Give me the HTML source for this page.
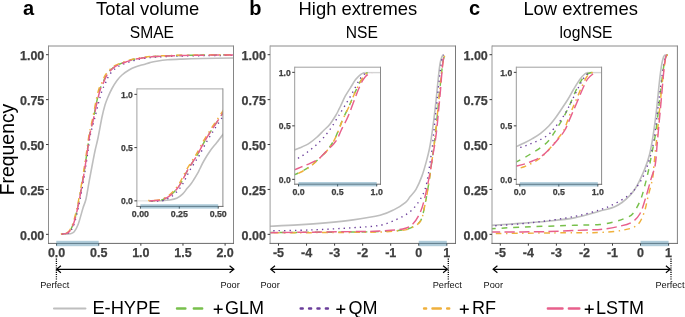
<!DOCTYPE html>
<html><head><meta charset="utf-8"><style>
html,body{margin:0;padding:0;background:#fff;}
body{width:685px;height:317px;overflow:hidden;position:relative;font-family:"Liberation Sans", sans-serif;}
</style></head><body>
<svg width="685" height="317" viewBox="0 0 685 317" style="position:absolute;left:0;top:0;font-family:'Liberation Sans', sans-serif;filter:blur(0.3px)">
<defs>
<clipPath id="cpa"><rect x="48.60" y="46.20" width="184.90" height="197.10"/></clipPath>
<clipPath id="cpb"><rect x="270.10" y="46.20" width="185.40" height="197.10"/></clipPath>
<clipPath id="cpc"><rect x="491.90" y="46.20" width="184.90" height="197.10"/></clipPath>
<clipPath id="cia"><rect x="136.90" y="88.90" width="86.00" height="117.50"/></clipPath>
<clipPath id="cib"><rect x="294.70" y="67.20" width="85.80" height="117.00"/></clipPath>
<clipPath id="cic"><rect x="516.30" y="67.20" width="85.30" height="117.10"/></clipPath>
</defs>
<text x="23.00" y="14.50" font-size="20.00" text-anchor="start" font-weight="bold" fill="#000">a</text>
<text x="96.00" y="14.50" font-size="18.40" text-anchor="start" font-weight="normal" fill="#000">Total volume</text>
<text x="129.80" y="38.30" font-size="15.60" text-anchor="start" font-weight="normal" fill="#000">SMAE</text>
<text x="249.20" y="14.50" font-size="20.00" text-anchor="start" font-weight="bold" fill="#000">b</text>
<text x="298.60" y="14.50" font-size="18.40" text-anchor="start" font-weight="normal" fill="#000">High extremes</text>
<text x="345.80" y="38.30" font-size="15.60" text-anchor="start" font-weight="normal" fill="#000">NSE</text>
<text x="469.00" y="14.50" font-size="20.00" text-anchor="start" font-weight="bold" fill="#000">c</text>
<text x="523.40" y="14.50" font-size="18.40" text-anchor="start" font-weight="normal" fill="#000">Low extremes</text>
<text x="559.60" y="38.30" font-size="15.60" text-anchor="start" font-weight="normal" fill="#000">logNSE</text>
<text x="0" y="0" font-size="19.4" fill="#000" transform="translate(14.3,195.3) rotate(-90)">Frequency</text>
<path d="M64.50,234.20 C65.43,234.13 68.48,234.22 70.10,233.80 C71.72,233.38 72.85,233.28 74.20,231.70 C75.55,230.12 76.73,228.25 78.20,224.30 C79.67,220.35 81.70,212.22 83.00,208.00 C84.30,203.78 84.97,203.47 86.00,199.00 C87.03,194.53 88.07,187.37 89.20,181.20 C90.33,175.03 91.80,167.20 92.80,162.00 C93.80,156.80 94.33,154.00 95.20,150.00 C96.07,146.00 96.87,143.50 98.00,138.00 C99.13,132.50 100.83,122.50 102.00,117.00 C103.17,111.50 104.00,108.33 105.00,105.00 C106.00,101.67 106.83,99.75 108.00,97.00 C109.17,94.25 110.50,91.25 112.00,88.50 C113.50,85.75 115.33,82.75 117.00,80.50 C118.67,78.25 120.00,76.75 122.00,75.00 C124.00,73.25 126.67,71.37 129.00,70.00 C131.33,68.63 133.50,67.73 136.00,66.80 C138.50,65.87 141.67,65.10 144.00,64.40 C146.33,63.70 147.90,63.13 150.00,62.60 C152.10,62.07 153.65,61.67 156.60,61.20 C159.55,60.73 163.53,60.15 167.70,59.80 C171.87,59.45 175.82,59.32 181.60,59.10 C187.38,58.88 193.67,58.68 202.40,58.50 C211.13,58.32 228.73,58.08 234.00,58.00" fill="none" stroke="#bebebe" stroke-width="1.60" clip-path="url(#cpa)"/>
<path d="M61.30,234.16 C62.25,233.98 65.50,233.73 67.00,233.06 C68.50,232.39 69.18,231.89 70.30,230.16 C71.42,228.43 72.50,226.36 73.70,222.66 C74.90,218.96 76.38,212.89 77.50,207.96 C78.62,203.03 79.43,198.28 80.40,193.06 C81.37,187.84 82.43,181.88 83.30,176.66 C84.17,171.44 84.88,166.46 85.60,161.76 C86.32,157.06 86.93,153.01 87.60,148.46 C88.27,143.91 88.65,139.48 89.60,134.46 C90.55,129.44 92.12,123.85 93.31,118.34 C94.51,112.84 95.71,106.24 96.79,101.42 C97.87,96.59 98.86,92.32 99.80,89.40 C100.74,86.48 101.65,85.57 102.40,83.90 C103.15,82.23 103.65,80.83 104.30,79.40 C104.95,77.97 105.43,76.70 106.30,75.30 C107.17,73.90 108.38,72.25 109.50,71.00 C110.62,69.75 111.95,68.67 113.00,67.80 C114.05,66.93 114.67,66.43 115.80,65.80 C116.93,65.17 118.18,64.65 119.80,64.00 C121.42,63.35 123.18,62.68 125.50,61.90 C127.82,61.12 130.70,60.02 133.70,59.30 C136.70,58.58 140.22,58.07 143.50,57.60 C146.78,57.13 149.45,56.80 153.40,56.50 C157.35,56.20 162.58,55.98 167.20,55.80 C171.82,55.62 175.32,55.52 181.10,55.40 C186.88,55.28 193.17,55.20 201.90,55.10 C210.63,55.00 228.23,54.85 233.50,54.80" fill="none" stroke="#78c04c" stroke-width="1.46" stroke-dasharray="5.84,5.84" clip-path="url(#cpa)"/>
<path d="M62.10,234.33 C63.05,234.15 66.30,233.90 67.80,233.23 C69.30,232.57 69.98,232.07 71.10,230.33 C72.22,228.60 73.30,226.53 74.50,222.83 C75.70,219.13 77.18,213.07 78.30,208.13 C79.42,203.20 80.23,198.45 81.20,193.23 C82.17,188.02 83.23,182.05 84.10,176.83 C84.97,171.62 85.68,166.63 86.40,161.94 C87.12,157.24 87.73,153.19 88.40,148.63 C89.07,144.08 89.37,139.64 90.40,134.63 C91.43,129.63 93.21,124.09 94.61,118.63 C96.01,113.16 97.52,106.64 98.80,101.86 C100.08,97.08 101.28,92.85 102.30,89.95 C103.32,87.05 104.15,86.12 104.90,84.45 C105.65,82.78 106.15,81.38 106.80,79.95 C107.45,78.52 107.93,77.25 108.80,75.85 C109.67,74.45 110.88,72.80 112.00,71.55 C113.12,70.30 114.45,69.22 115.50,68.35 C116.55,67.48 117.17,66.98 118.30,66.35 C119.43,65.72 120.68,65.20 122.30,64.55 C123.92,63.90 125.68,63.23 128.00,62.45 C130.32,61.67 133.20,60.57 136.20,59.85 C139.20,59.13 142.72,58.62 146.00,58.15 C149.28,57.68 151.95,57.35 155.90,57.05 C159.85,56.75 165.08,56.53 169.70,56.35 C174.32,56.17 177.82,56.07 183.60,55.95 C189.38,55.83 195.67,55.75 204.40,55.65 C213.13,55.55 230.73,55.40 236.00,55.35" fill="none" stroke="#6a3d9a" stroke-width="1.35" stroke-dasharray="1.35,4.05" clip-path="url(#cpa)"/>
<path d="M60.83,234.09 C61.78,233.90 65.03,233.65 66.53,232.99 C68.03,232.32 68.71,231.82 69.83,230.09 C70.94,228.35 72.03,226.29 73.23,222.59 C74.43,218.89 75.91,212.82 77.03,207.89 C78.14,202.95 78.96,198.20 79.92,192.99 C80.89,187.77 81.96,181.80 82.83,176.59 C83.69,171.37 84.41,166.39 85.12,161.69 C85.84,156.99 86.46,152.94 87.12,148.39 C87.79,143.84 88.20,139.41 89.12,134.39 C90.05,129.36 91.55,123.76 92.69,118.25 C93.82,112.73 94.92,106.12 95.94,101.29 C96.96,96.46 97.89,92.17 98.80,89.25 C99.71,86.33 100.65,85.42 101.40,83.75 C102.15,82.08 102.65,80.68 103.30,79.25 C103.95,77.82 104.43,76.55 105.30,75.15 C106.17,73.75 107.38,72.10 108.50,70.85 C109.62,69.60 110.95,68.52 112.00,67.65 C113.05,66.78 113.67,66.28 114.80,65.65 C115.93,65.02 117.18,64.50 118.80,63.85 C120.42,63.20 122.18,62.53 124.50,61.75 C126.82,60.97 129.70,59.87 132.70,59.15 C135.70,58.43 139.22,57.92 142.50,57.45 C145.78,56.98 148.45,56.65 152.40,56.35 C156.35,56.05 161.58,55.83 166.20,55.65 C170.82,55.47 174.32,55.37 180.10,55.25 C185.88,55.13 192.17,55.05 200.90,54.95 C209.63,54.85 227.23,54.70 232.50,54.65" fill="none" stroke="#efb03c" stroke-width="1.46" stroke-dasharray="1.46,4.38,5.84,4.38" clip-path="url(#cpa)"/>
<path d="M61.50,234.20 C62.45,234.02 65.70,233.77 67.20,233.10 C68.70,232.43 69.38,231.93 70.50,230.20 C71.62,228.47 72.70,226.40 73.90,222.70 C75.10,219.00 76.58,212.93 77.70,208.00 C78.82,203.07 79.63,198.32 80.60,193.10 C81.57,187.88 82.63,181.92 83.50,176.70 C84.37,171.48 85.08,166.50 85.80,161.80 C86.52,157.10 87.13,153.05 87.80,148.50 C88.47,143.95 88.83,139.52 89.80,134.50 C90.77,129.48 92.37,123.90 93.60,118.40 C94.83,112.90 96.08,106.32 97.20,101.50 C98.32,96.68 99.35,92.42 100.30,89.50 C101.25,86.58 102.15,85.67 102.90,84.00 C103.65,82.33 104.15,80.93 104.80,79.50 C105.45,78.07 105.93,76.80 106.80,75.40 C107.67,74.00 108.88,72.35 110.00,71.10 C111.12,69.85 112.45,68.77 113.50,67.90 C114.55,67.03 115.17,66.53 116.30,65.90 C117.43,65.27 118.68,64.75 120.30,64.10 C121.92,63.45 123.68,62.78 126.00,62.00 C128.32,61.22 131.20,60.12 134.20,59.40 C137.20,58.68 140.72,58.17 144.00,57.70 C147.28,57.23 149.95,56.90 153.90,56.60 C157.85,56.30 163.08,56.08 167.70,55.90 C172.32,55.72 175.82,55.62 181.60,55.50 C187.38,55.38 193.67,55.30 202.40,55.20 C211.13,55.10 228.73,54.95 234.00,54.90" fill="none" stroke="#e8608c" stroke-width="1.46" stroke-dasharray="10.22,4.38" clip-path="url(#cpa)"/>
<rect x="136.90" y="88.90" width="86.00" height="117.50" fill="#fff"/>
<line x1="136.90" x2="150" y1="200.85" y2="200.85" stroke="#e2e2e2" stroke-width="1.3"/>
<path d="M157.00,200.90 C157.50,200.88 157.88,200.95 160.00,200.80 C162.12,200.65 166.92,200.42 169.70,200.00 C172.48,199.58 174.57,199.27 176.70,198.30 C178.83,197.33 180.75,195.87 182.50,194.20 C184.25,192.53 185.83,189.95 187.20,188.30 C188.57,186.65 189.53,185.85 190.70,184.30 C191.87,182.75 193.03,180.85 194.20,179.00 C195.37,177.15 196.73,174.95 197.70,173.20 C198.67,171.45 198.98,170.53 200.00,168.50 C201.02,166.47 202.07,164.00 203.80,161.00 C205.53,158.00 208.20,153.62 210.40,150.50 C212.60,147.38 214.73,145.22 217.00,142.30 C219.27,139.38 222.83,134.55 224.00,133.00" fill="none" stroke="#bebebe" stroke-width="1.60" clip-path="url(#cia)"/>
<path d="M149.40,200.90 C151.17,200.80 157.40,200.68 160.00,200.30 C162.60,199.92 163.38,199.33 165.00,198.60 C166.62,197.87 168.15,197.03 169.70,195.90 C171.25,194.77 172.95,193.15 174.30,191.80 C175.65,190.45 176.63,189.35 177.80,187.80 C178.97,186.25 180.22,184.35 181.30,182.50 C182.38,180.65 183.25,178.75 184.30,176.70 C185.35,174.65 186.27,172.55 187.60,170.20 C188.93,167.85 190.72,165.10 192.30,162.60 C193.88,160.10 195.03,158.77 197.10,155.20 C199.17,151.63 202.08,145.70 204.70,141.20 C207.32,136.70 210.12,132.37 212.80,128.20 C215.48,124.03 218.77,119.23 220.80,116.20 C222.83,113.17 224.30,111.03 225.00,110.00" fill="none" stroke="#78c04c" stroke-width="1.46" stroke-dasharray="5.84,5.84" clip-path="url(#cia)"/>
<path d="M151.40,201.40 C153.17,201.30 159.40,201.18 162.00,200.80 C164.60,200.42 165.38,199.83 167.00,199.10 C168.62,198.37 170.15,197.53 171.70,196.40 C173.25,195.27 174.95,193.65 176.30,192.30 C177.65,190.95 178.63,189.85 179.80,188.30 C180.97,186.75 182.22,184.85 183.30,183.00 C184.38,181.15 185.25,179.25 186.30,177.20 C187.35,175.15 188.27,173.05 189.60,170.70 C190.93,168.35 192.72,165.60 194.30,163.10 C195.88,160.60 197.03,159.27 199.10,155.70 C201.17,152.13 204.08,146.20 206.70,141.70 C209.32,137.20 212.12,132.87 214.80,128.70 C217.48,124.53 220.77,119.73 222.80,116.70 C224.83,113.67 226.30,111.53 227.00,110.50" fill="none" stroke="#6a3d9a" stroke-width="1.35" stroke-dasharray="1.35,4.05" clip-path="url(#cia)"/>
<path d="M148.20,200.60 C149.97,200.50 156.20,200.38 158.80,200.00 C161.40,199.62 162.18,199.03 163.80,198.30 C165.42,197.57 166.95,196.73 168.50,195.60 C170.05,194.47 171.75,192.85 173.10,191.50 C174.45,190.15 175.43,189.05 176.60,187.50 C177.77,185.95 179.02,184.05 180.10,182.20 C181.18,180.35 182.05,178.45 183.10,176.40 C184.15,174.35 185.07,172.25 186.40,169.90 C187.73,167.55 189.52,164.80 191.10,162.30 C192.68,159.80 193.83,158.47 195.90,154.90 C197.97,151.33 200.88,145.40 203.50,140.90 C206.12,136.40 208.92,132.07 211.60,127.90 C214.28,123.73 217.57,118.93 219.60,115.90 C221.63,112.87 223.10,110.73 223.80,109.70" fill="none" stroke="#efb03c" stroke-width="1.46" stroke-dasharray="1.46,4.38,5.84,4.38" clip-path="url(#cia)"/>
<path d="M149.40,200.90 C151.17,200.80 157.40,200.68 160.00,200.30 C162.60,199.92 163.38,199.33 165.00,198.60 C166.62,197.87 168.15,197.03 169.70,195.90 C171.25,194.77 172.95,193.15 174.30,191.80 C175.65,190.45 176.63,189.35 177.80,187.80 C178.97,186.25 180.22,184.35 181.30,182.50 C182.38,180.65 183.25,178.75 184.30,176.70 C185.35,174.65 186.27,172.55 187.60,170.20 C188.93,167.85 190.72,165.10 192.30,162.60 C193.88,160.10 195.03,158.77 197.10,155.20 C199.17,151.63 202.08,145.70 204.70,141.20 C207.32,136.70 210.12,132.37 212.80,128.20 C215.48,124.03 218.77,119.23 220.80,116.20 C222.83,113.17 224.30,111.03 225.00,110.00" fill="none" stroke="#e8608c" stroke-width="1.46" stroke-dasharray="10.22,4.38" clip-path="url(#cia)"/>
<line x1="136.90" x2="222.90" y1="88.90" y2="88.90" stroke="#a8a8a8" stroke-width="1.00"/>
<line x1="222.90" x2="222.90" y1="88.40" y2="206.90" stroke="#8a8a8a" stroke-width="1.00"/>
<line x1="136.90" x2="136.90" y1="88.40" y2="206.90" stroke="#a0a0a0" stroke-width="1.00"/>
<line x1="136.40" x2="223.40" y1="206.40" y2="206.40" stroke="#6e6e6e" stroke-width="1.00"/>
<line x1="134.40" x2="136.90" y1="200.85" y2="200.85" stroke="#3c3c3c" stroke-width="1"/>
<text x="132.90" y="204.25" font-size="8.60" text-anchor="end" font-weight="bold" fill="#3e3e3e" stroke="#3e3e3e" stroke-width="0.25">0.0</text>
<line x1="134.40" x2="136.90" y1="147.60" y2="147.60" stroke="#3c3c3c" stroke-width="1"/>
<text x="132.90" y="151.00" font-size="8.60" text-anchor="end" font-weight="bold" fill="#3e3e3e" stroke="#3e3e3e" stroke-width="0.25">0.5</text>
<line x1="134.40" x2="136.90" y1="94.35" y2="94.35" stroke="#3c3c3c" stroke-width="1"/>
<text x="132.90" y="97.75" font-size="8.60" text-anchor="end" font-weight="bold" fill="#3e3e3e" stroke="#3e3e3e" stroke-width="0.25">1.0</text>
<line x1="140.40" x2="140.40" y1="206.40" y2="208.60" stroke="#3c3c3c" stroke-width="1"/>
<text x="140.40" y="217.30" font-size="8.80" text-anchor="middle" font-weight="bold" fill="#3e3e3e" stroke="#3e3e3e" stroke-width="0.25">0.00</text>
<line x1="179.30" x2="179.30" y1="206.40" y2="208.60" stroke="#3c3c3c" stroke-width="1"/>
<text x="179.30" y="217.30" font-size="8.80" text-anchor="middle" font-weight="bold" fill="#3e3e3e" stroke="#3e3e3e" stroke-width="0.25">0.25</text>
<line x1="218.20" x2="218.20" y1="206.40" y2="208.60" stroke="#3c3c3c" stroke-width="1"/>
<text x="218.20" y="217.30" font-size="8.80" text-anchor="middle" font-weight="bold" fill="#3e3e3e" stroke="#3e3e3e" stroke-width="0.25">0.50</text>
<rect x="140.40" y="204.20" width="77.80" height="4.4" fill="rgba(79,142,173,0.45)"/>
<line x1="48.50" x2="233.50" y1="46.00" y2="46.00" stroke="#8a8a8a" stroke-width="1.00"/>
<line x1="233.50" x2="233.50" y1="45.50" y2="243.90" stroke="#858585" stroke-width="1.00"/>
<line x1="48.50" x2="48.50" y1="45.50" y2="243.90" stroke="#8e8e8e" stroke-width="1.00"/>
<line x1="48.00" x2="234.00" y1="243.40" y2="243.40" stroke="#6a6a6a" stroke-width="1.00"/>
<line x1="46.00" x2="48.50" y1="234.35" y2="234.35" stroke="#3c3c3c" stroke-width="1"/>
<text x="44.30" y="239.85" font-size="12.50" text-anchor="end" font-weight="bold" fill="#3e3e3e" stroke="#3e3e3e" stroke-width="0.25">0.00</text>
<line x1="46.00" x2="48.50" y1="189.44" y2="189.44" stroke="#3c3c3c" stroke-width="1"/>
<text x="44.30" y="194.94" font-size="12.50" text-anchor="end" font-weight="bold" fill="#3e3e3e" stroke="#3e3e3e" stroke-width="0.25">0.25</text>
<line x1="46.00" x2="48.50" y1="144.52" y2="144.52" stroke="#3c3c3c" stroke-width="1"/>
<text x="44.30" y="150.02" font-size="12.50" text-anchor="end" font-weight="bold" fill="#3e3e3e" stroke="#3e3e3e" stroke-width="0.25">0.50</text>
<line x1="46.00" x2="48.50" y1="99.61" y2="99.61" stroke="#3c3c3c" stroke-width="1"/>
<text x="44.30" y="105.11" font-size="12.50" text-anchor="end" font-weight="bold" fill="#3e3e3e" stroke="#3e3e3e" stroke-width="0.25">0.75</text>
<line x1="46.00" x2="48.50" y1="54.70" y2="54.70" stroke="#3c3c3c" stroke-width="1"/>
<text x="44.30" y="60.20" font-size="12.50" text-anchor="end" font-weight="bold" fill="#3e3e3e" stroke="#3e3e3e" stroke-width="0.25">1.00</text>
<line x1="56.60" x2="56.60" y1="243.40" y2="245.70" stroke="#3c3c3c" stroke-width="1"/>
<text x="56.60" y="256.70" font-size="12.50" text-anchor="middle" font-weight="bold" fill="#3e3e3e" stroke="#3e3e3e" stroke-width="0.25">0.0</text>
<line x1="98.72" x2="98.72" y1="243.40" y2="245.70" stroke="#3c3c3c" stroke-width="1"/>
<text x="98.72" y="256.70" font-size="12.50" text-anchor="middle" font-weight="bold" fill="#3e3e3e" stroke="#3e3e3e" stroke-width="0.25">0.5</text>
<line x1="140.85" x2="140.85" y1="243.40" y2="245.70" stroke="#3c3c3c" stroke-width="1"/>
<text x="140.85" y="256.70" font-size="12.50" text-anchor="middle" font-weight="bold" fill="#3e3e3e" stroke="#3e3e3e" stroke-width="0.25">1.0</text>
<line x1="182.97" x2="182.97" y1="243.40" y2="245.70" stroke="#3c3c3c" stroke-width="1"/>
<text x="182.97" y="256.70" font-size="12.50" text-anchor="middle" font-weight="bold" fill="#3e3e3e" stroke="#3e3e3e" stroke-width="0.25">1.5</text>
<line x1="225.10" x2="225.10" y1="243.40" y2="245.70" stroke="#3c3c3c" stroke-width="1"/>
<text x="225.10" y="256.70" font-size="12.50" text-anchor="middle" font-weight="bold" fill="#3e3e3e" stroke="#3e3e3e" stroke-width="0.25">2.0</text>
<rect x="56.30" y="240.80" width="42.42" height="5.4" fill="rgba(79,142,173,0.45)"/>
<line x1="56.40" x2="56.40" y1="258.6" y2="279.8" stroke="#000" stroke-width="1.3" stroke-dasharray="1.1,1.1"/>
<line x1="57.20" x2="233.30" y1="269.3" y2="269.3" stroke="#000" stroke-width="1.15"/>
<path d="M60.90,265.80 L56.60,269.3 L60.90,272.80" fill="none" stroke="#000" stroke-width="1.15"/>
<path d="M229.60,265.80 L233.90,269.3 L229.60,272.80" fill="none" stroke="#000" stroke-width="1.15"/>
<text x="54.80" y="288.30" font-size="9.20" text-anchor="middle" font-weight="normal" fill="#111">Perfect</text>
<text x="230.10" y="288.30" font-size="9.20" text-anchor="middle" font-weight="normal" fill="#111">Poor</text>
<path d="M268.00,226.40 C272.95,226.15 288.12,225.48 297.70,224.90 C307.28,224.32 316.25,223.73 325.50,222.90 C334.75,222.07 344.12,221.17 353.20,219.90 C362.28,218.63 373.17,217.02 380.00,215.30 C386.83,213.58 389.93,211.77 394.20,209.60 C398.47,207.43 402.97,204.43 405.60,202.30 C408.23,200.17 408.27,198.95 410.00,196.80 C411.73,194.65 414.00,192.88 416.00,189.40 C418.00,185.92 420.25,180.65 422.00,175.90 C423.75,171.15 425.27,165.38 426.50,160.90 C427.73,156.42 428.65,152.48 429.40,149.00 C430.15,145.52 430.40,143.83 431.00,140.00 C431.60,136.17 432.33,131.00 433.00,126.00 C433.67,121.00 434.40,115.17 435.00,110.00 C435.60,104.83 436.05,100.33 436.60,95.00 C437.15,89.67 437.73,83.17 438.30,78.00 C438.87,72.83 439.42,67.50 440.00,64.00 C440.58,60.50 441.15,58.55 441.80,57.00 C442.45,55.45 443.55,55.08 443.90,54.70" fill="none" stroke="#bebebe" stroke-width="1.60" clip-path="url(#cpb)"/>
<path d="M268.00,232.60 C282.20,232.50 334.53,232.17 353.20,232.00 C371.87,231.83 372.20,231.88 380.00,231.60 C387.80,231.32 395.00,230.87 400.00,230.30 C405.00,229.73 406.58,229.78 410.00,228.20 C413.42,226.62 418.00,224.78 420.50,220.80 C423.00,216.82 423.67,210.28 425.00,204.30 C426.33,198.32 427.42,191.63 428.50,184.90 C429.58,178.17 430.58,170.38 431.50,163.90 C432.42,157.42 433.25,151.98 434.00,146.00 C434.75,140.02 435.37,134.00 436.00,128.00 C436.63,122.00 437.20,116.00 437.80,110.00 C438.40,104.00 439.00,98.00 439.60,92.00 C440.20,86.00 440.78,79.33 441.40,74.00 C442.02,68.67 442.70,63.17 443.30,60.00 C443.90,56.83 444.72,55.83 445.00,55.00" fill="none" stroke="#78c04c" stroke-width="1.46" stroke-dasharray="5.84,5.84" clip-path="url(#cpb)"/>
<path d="M268.00,230.90 C275.27,230.73 297.40,230.43 311.60,229.90 C325.80,229.37 341.80,228.47 353.20,227.70 C364.60,226.93 372.68,226.72 380.00,225.30 C387.32,223.88 392.10,221.45 397.10,219.20 C402.10,216.95 406.35,214.78 410.00,211.80 C413.65,208.82 416.50,205.03 419.00,201.30 C421.50,197.57 423.50,193.63 425.00,189.40 C426.50,185.17 427.12,180.65 428.00,175.90 C428.88,171.15 429.57,165.88 430.30,160.90 C431.03,155.92 431.78,151.15 432.40,146.00 C433.02,140.85 433.47,135.17 434.00,130.00 C434.53,124.83 435.02,120.67 435.60,115.00 C436.18,109.33 436.82,102.50 437.50,96.00 C438.18,89.50 438.98,82.00 439.70,76.00 C440.42,70.00 441.17,63.53 441.80,60.00 C442.43,56.47 443.22,55.67 443.50,54.80" fill="none" stroke="#6a3d9a" stroke-width="1.35" stroke-dasharray="1.35,4.05" clip-path="url(#cpb)"/>
<path d="M268.00,232.90 C282.20,232.82 334.53,232.55 353.20,232.40 C371.87,232.25 372.20,232.30 380.00,232.00 C387.80,231.70 395.00,231.18 400.00,230.60 C405.00,230.02 406.58,230.08 410.00,228.50 C413.42,226.92 418.00,225.08 420.50,221.10 C423.00,217.12 423.67,210.58 425.00,204.60 C426.33,198.62 427.42,191.93 428.50,185.20 C429.58,178.47 430.58,170.68 431.50,164.20 C432.42,157.72 433.25,152.28 434.00,146.30 C434.75,140.32 435.37,134.30 436.00,128.30 C436.63,122.30 437.20,116.30 437.80,110.30 C438.40,104.30 439.00,98.30 439.60,92.30 C440.20,86.30 440.78,79.63 441.40,74.30 C442.02,68.97 442.70,63.52 443.30,60.30 C443.90,57.08 444.72,55.88 445.00,55.00" fill="none" stroke="#efb03c" stroke-width="1.46" stroke-dasharray="1.46,4.38,5.84,4.38" clip-path="url(#cpb)"/>
<path d="M268.00,232.70 C282.20,232.52 334.53,231.88 353.20,231.60 C371.87,231.32 371.75,231.43 380.00,231.00 C388.25,230.57 397.20,230.20 402.70,229.00 C408.20,227.80 410.03,226.67 413.00,223.80 C415.97,220.93 418.50,216.30 420.50,211.80 C422.50,207.30 423.52,202.78 425.00,196.80 C426.48,190.82 428.17,182.37 429.40,175.90 C430.63,169.43 431.40,163.98 432.40,158.00 C433.40,152.02 434.58,145.68 435.40,140.00 C436.22,134.32 436.73,129.23 437.30,123.90 C437.87,118.57 438.32,113.05 438.80,108.00 C439.28,102.95 439.77,98.53 440.20,93.60 C440.63,88.67 440.97,83.45 441.40,78.40 C441.83,73.35 442.33,67.08 442.80,63.30 C443.27,59.52 443.75,57.15 444.20,55.70 C444.65,54.25 445.28,54.78 445.50,54.60" fill="none" stroke="#e8608c" stroke-width="1.46" stroke-dasharray="10.22,4.38" clip-path="url(#cpb)"/>
<rect x="294.70" y="67.20" width="85.80" height="117.00" fill="#fff"/>
<line x1="364" x2="380.50" y1="72.6" y2="72.6" stroke="#d4d4d4" stroke-width="1.4"/>
<path d="M293.00,150.50 C294.17,150.05 297.27,149.03 300.00,147.80 C302.73,146.57 306.52,144.93 309.40,143.10 C312.28,141.27 314.93,138.90 317.30,136.80 C319.67,134.70 321.50,132.60 323.60,130.50 C325.70,128.40 327.80,126.83 329.90,124.20 C332.00,121.57 334.75,117.07 336.20,114.70 C337.65,112.33 337.87,111.45 338.60,110.00 C339.33,108.55 339.50,108.30 340.60,106.00 C341.70,103.70 343.57,99.23 345.20,96.20 C346.83,93.17 348.67,90.57 350.40,87.80 C352.13,85.03 353.87,81.85 355.60,79.60 C357.33,77.35 359.37,75.45 360.80,74.30 C362.23,73.15 363.63,72.97 364.20,72.70" fill="none" stroke="#bebebe" stroke-width="1.60" clip-path="url(#cib)"/>
<path d="M293.00,175.30 C294.53,174.62 299.30,172.73 302.20,171.20 C305.10,169.67 307.67,168.15 310.40,166.10 C313.13,164.05 315.87,161.47 318.60,158.90 C321.33,156.33 324.07,154.12 326.80,150.70 C329.53,147.28 332.32,143.68 335.00,138.40 C337.68,133.12 340.60,124.28 342.90,119.00 C345.20,113.72 346.82,111.07 348.80,106.70 C350.78,102.33 352.82,97.10 354.80,92.80 C356.78,88.50 358.88,84.03 360.70,80.90 C362.52,77.77 364.53,75.38 365.70,74.00 C366.87,72.62 367.37,72.83 367.70,72.60" fill="none" stroke="#78c04c" stroke-width="1.46" stroke-dasharray="5.84,5.84" clip-path="url(#cib)"/>
<path d="M293.00,160.50 C294.17,159.95 297.52,158.67 300.00,157.20 C302.48,155.73 305.28,153.67 307.90,151.70 C310.52,149.73 313.08,147.75 315.70,145.40 C318.32,143.05 320.97,140.62 323.60,137.60 C326.23,134.58 329.13,130.72 331.50,127.30 C333.87,123.88 336.30,119.52 337.80,117.10 C339.30,114.68 339.27,114.80 340.50,112.80 C341.73,110.80 343.55,107.83 345.20,105.10 C346.85,102.37 348.67,99.43 350.40,96.40 C352.13,93.37 354.02,89.78 355.60,86.90 C357.18,84.02 358.47,81.20 359.90,79.10 C361.33,77.00 362.90,75.30 364.20,74.30 C365.50,73.30 367.12,73.30 367.70,73.10" fill="none" stroke="#6a3d9a" stroke-width="1.35" stroke-dasharray="1.35,4.05" clip-path="url(#cib)"/>
<path d="M293.00,175.60 C294.53,174.92 299.30,173.03 302.20,171.50 C305.10,169.97 307.67,168.45 310.40,166.40 C313.13,164.35 315.87,161.77 318.60,159.20 C321.33,156.63 324.07,154.42 326.80,151.00 C329.53,147.58 332.32,143.98 335.00,138.70 C337.68,133.42 340.60,124.58 342.90,119.30 C345.20,114.02 346.82,111.37 348.80,107.00 C350.78,102.63 352.82,97.40 354.80,93.10 C356.78,88.80 358.88,84.33 360.70,81.20 C362.52,78.07 364.53,75.73 365.70,74.30 C366.87,72.87 367.37,72.88 367.70,72.60" fill="none" stroke="#efb03c" stroke-width="1.46" stroke-dasharray="1.46,4.38,5.84,4.38" clip-path="url(#cib)"/>
<path d="M293.00,170.50 C294.32,169.95 298.42,168.23 300.90,167.20 C303.38,166.17 305.58,165.30 307.90,164.30 C310.22,163.30 312.78,162.30 314.80,161.20 C316.82,160.10 318.27,159.15 320.00,157.70 C321.73,156.25 323.47,154.23 325.20,152.50 C326.93,150.77 328.93,148.80 330.40,147.30 C331.87,145.80 332.82,144.97 334.00,143.50 C335.18,142.03 336.28,140.75 337.50,138.50 C338.72,136.25 339.83,133.03 341.30,130.00 C342.77,126.97 344.83,123.40 346.30,120.30 C347.77,117.20 348.83,114.57 350.10,111.40 C351.37,108.23 352.63,104.65 353.90,101.30 C355.17,97.95 356.43,94.43 357.70,91.30 C358.97,88.17 360.27,84.88 361.50,82.50 C362.73,80.12 363.92,78.37 365.10,77.00 C366.28,75.63 367.45,74.92 368.60,74.30 C369.75,73.68 371.43,73.47 372.00,73.30" fill="none" stroke="#e8608c" stroke-width="1.46" stroke-dasharray="10.22,4.38" clip-path="url(#cib)"/>
<line x1="294.70" x2="380.50" y1="67.20" y2="67.20" stroke="#a0a0a0" stroke-width="1.00"/>
<line x1="380.50" x2="380.50" y1="66.70" y2="184.70" stroke="#8a8a8a" stroke-width="1.00"/>
<line x1="294.70" x2="294.70" y1="66.70" y2="184.70" stroke="#9a9a9a" stroke-width="1.00"/>
<line x1="294.20" x2="381.00" y1="184.20" y2="184.20" stroke="#6e6e6e" stroke-width="1.00"/>
<line x1="292.20" x2="294.70" y1="179.35" y2="179.35" stroke="#3c3c3c" stroke-width="1"/>
<text x="290.70" y="182.75" font-size="8.60" text-anchor="end" font-weight="bold" fill="#3e3e3e" stroke="#3e3e3e" stroke-width="0.25">0.0</text>
<line x1="292.20" x2="294.70" y1="125.85" y2="125.85" stroke="#3c3c3c" stroke-width="1"/>
<text x="290.70" y="129.25" font-size="8.60" text-anchor="end" font-weight="bold" fill="#3e3e3e" stroke="#3e3e3e" stroke-width="0.25">0.5</text>
<line x1="292.20" x2="294.70" y1="72.35" y2="72.35" stroke="#3c3c3c" stroke-width="1"/>
<text x="290.70" y="75.75" font-size="8.60" text-anchor="end" font-weight="bold" fill="#3e3e3e" stroke="#3e3e3e" stroke-width="0.25">1.0</text>
<line x1="298.50" x2="298.50" y1="184.20" y2="186.40" stroke="#3c3c3c" stroke-width="1"/>
<text x="298.50" y="195.10" font-size="8.80" text-anchor="middle" font-weight="bold" fill="#3e3e3e" stroke="#3e3e3e" stroke-width="0.25">0.0</text>
<line x1="337.60" x2="337.60" y1="184.20" y2="186.40" stroke="#3c3c3c" stroke-width="1"/>
<text x="337.60" y="195.10" font-size="8.80" text-anchor="middle" font-weight="bold" fill="#3e3e3e" stroke="#3e3e3e" stroke-width="0.25">0.5</text>
<line x1="376.70" x2="376.70" y1="184.20" y2="186.40" stroke="#3c3c3c" stroke-width="1"/>
<text x="376.70" y="195.10" font-size="8.80" text-anchor="middle" font-weight="bold" fill="#3e3e3e" stroke="#3e3e3e" stroke-width="0.25">1.0</text>
<rect x="298.50" y="182.00" width="78.20" height="4.4" fill="rgba(79,142,173,0.45)"/>
<line x1="270.10" x2="455.50" y1="46.00" y2="46.00" stroke="#8a8a8a" stroke-width="1.00"/>
<line x1="455.50" x2="455.50" y1="45.50" y2="243.90" stroke="#7a7a7a" stroke-width="1.00"/>
<line x1="270.10" x2="270.10" y1="45.50" y2="243.90" stroke="#9c9c9c" stroke-width="1.00"/>
<line x1="269.60" x2="456.00" y1="243.40" y2="243.40" stroke="#6a6a6a" stroke-width="1.00"/>
<line x1="267.60" x2="270.10" y1="234.35" y2="234.35" stroke="#3c3c3c" stroke-width="1"/>
<text x="265.90" y="239.85" font-size="12.50" text-anchor="end" font-weight="bold" fill="#3e3e3e" stroke="#3e3e3e" stroke-width="0.25">0.00</text>
<line x1="267.60" x2="270.10" y1="189.44" y2="189.44" stroke="#3c3c3c" stroke-width="1"/>
<text x="265.90" y="194.94" font-size="12.50" text-anchor="end" font-weight="bold" fill="#3e3e3e" stroke="#3e3e3e" stroke-width="0.25">0.25</text>
<line x1="267.60" x2="270.10" y1="144.52" y2="144.52" stroke="#3c3c3c" stroke-width="1"/>
<text x="265.90" y="150.02" font-size="12.50" text-anchor="end" font-weight="bold" fill="#3e3e3e" stroke="#3e3e3e" stroke-width="0.25">0.50</text>
<line x1="267.60" x2="270.10" y1="99.61" y2="99.61" stroke="#3c3c3c" stroke-width="1"/>
<text x="265.90" y="105.11" font-size="12.50" text-anchor="end" font-weight="bold" fill="#3e3e3e" stroke="#3e3e3e" stroke-width="0.25">0.75</text>
<line x1="267.60" x2="270.10" y1="54.70" y2="54.70" stroke="#3c3c3c" stroke-width="1"/>
<text x="265.90" y="60.20" font-size="12.50" text-anchor="end" font-weight="bold" fill="#3e3e3e" stroke="#3e3e3e" stroke-width="0.25">1.00</text>
<line x1="278.50" x2="278.50" y1="243.40" y2="245.70" stroke="#3c3c3c" stroke-width="1"/>
<text x="278.50" y="256.70" font-size="12.50" text-anchor="middle" font-weight="bold" fill="#3e3e3e" stroke="#3e3e3e" stroke-width="0.25">-5</text>
<line x1="306.55" x2="306.55" y1="243.40" y2="245.70" stroke="#3c3c3c" stroke-width="1"/>
<text x="306.55" y="256.70" font-size="12.50" text-anchor="middle" font-weight="bold" fill="#3e3e3e" stroke="#3e3e3e" stroke-width="0.25">-4</text>
<line x1="334.60" x2="334.60" y1="243.40" y2="245.70" stroke="#3c3c3c" stroke-width="1"/>
<text x="334.60" y="256.70" font-size="12.50" text-anchor="middle" font-weight="bold" fill="#3e3e3e" stroke="#3e3e3e" stroke-width="0.25">-3</text>
<line x1="362.65" x2="362.65" y1="243.40" y2="245.70" stroke="#3c3c3c" stroke-width="1"/>
<text x="362.65" y="256.70" font-size="12.50" text-anchor="middle" font-weight="bold" fill="#3e3e3e" stroke="#3e3e3e" stroke-width="0.25">-2</text>
<line x1="390.70" x2="390.70" y1="243.40" y2="245.70" stroke="#3c3c3c" stroke-width="1"/>
<text x="390.70" y="256.70" font-size="12.50" text-anchor="middle" font-weight="bold" fill="#3e3e3e" stroke="#3e3e3e" stroke-width="0.25">-1</text>
<line x1="418.75" x2="418.75" y1="243.40" y2="245.70" stroke="#3c3c3c" stroke-width="1"/>
<text x="418.75" y="256.70" font-size="12.50" text-anchor="middle" font-weight="bold" fill="#3e3e3e" stroke="#3e3e3e" stroke-width="0.25">0</text>
<line x1="446.80" x2="446.80" y1="243.40" y2="245.70" stroke="#3c3c3c" stroke-width="1"/>
<text x="446.80" y="256.70" font-size="12.50" text-anchor="middle" font-weight="bold" fill="#3e3e3e" stroke="#3e3e3e" stroke-width="0.25">1</text>
<rect x="418.75" y="240.80" width="28.05" height="5.4" fill="rgba(79,142,173,0.45)"/>
<line x1="448.30" x2="448.30" y1="258.6" y2="279.8" stroke="#000" stroke-width="1.3" stroke-dasharray="1.1,1.1"/>
<line x1="271.30" x2="446.80" y1="269.3" y2="269.3" stroke="#000" stroke-width="1.15"/>
<path d="M275.00,265.80 L270.70,269.3 L275.00,272.80" fill="none" stroke="#000" stroke-width="1.15"/>
<path d="M443.10,265.80 L447.40,269.3 L443.10,272.80" fill="none" stroke="#000" stroke-width="1.15"/>
<text x="447.25" y="288.30" font-size="9.20" text-anchor="middle" font-weight="normal" fill="#111">Perfect</text>
<text x="270.10" y="288.30" font-size="9.20" text-anchor="middle" font-weight="normal" fill="#111">Poor</text>
<path d="M490.00,225.40 C494.90,225.07 509.92,224.10 519.40,223.40 C528.88,222.70 537.75,222.12 546.90,221.20 C556.05,220.28 565.45,219.58 574.30,217.90 C583.15,216.22 593.35,212.93 600.00,211.10 C606.65,209.27 610.53,208.33 614.20,206.90 C617.87,205.47 619.37,204.42 622.00,202.50 C624.63,200.58 627.83,197.65 630.00,195.40 C632.17,193.15 633.50,191.25 635.00,189.00 C636.50,186.75 637.33,185.33 639.00,181.90 C640.67,178.47 643.27,172.88 645.00,168.40 C646.73,163.92 648.17,159.73 649.40,155.00 C650.63,150.27 651.53,145.00 652.40,140.00 C653.27,135.00 653.92,130.00 654.60,125.00 C655.28,120.00 655.90,115.23 656.50,110.00 C657.10,104.77 657.62,99.18 658.20,93.60 C658.78,88.02 659.38,81.55 660.00,76.50 C660.62,71.45 661.28,66.62 661.90,63.30 C662.52,59.98 663.08,58.05 663.70,56.60 C664.32,55.15 665.28,54.93 665.60,54.60" fill="none" stroke="#bebebe" stroke-width="1.60" clip-path="url(#cpc)"/>
<path d="M490.00,228.90 C494.90,228.62 505.35,227.80 519.40,227.20 C533.45,226.60 560.87,225.75 574.30,225.30 C587.73,224.85 592.87,225.20 600.00,224.50 C607.13,223.80 612.77,222.22 617.10,221.10 C621.43,219.98 623.35,219.07 626.00,217.80 C628.65,216.53 630.58,216.48 633.00,213.50 C635.42,210.52 638.50,204.67 640.50,199.90 C642.50,195.13 643.65,189.88 645.00,184.90 C646.35,179.92 647.52,174.98 648.60,170.00 C649.68,165.02 650.52,160.00 651.50,155.00 C652.48,150.00 653.63,145.00 654.50,140.00 C655.37,135.00 656.02,130.20 656.70,125.00 C657.38,119.80 657.97,114.30 658.60,108.80 C659.23,103.30 659.85,97.63 660.50,92.00 C661.15,86.37 661.83,80.00 662.50,75.00 C663.17,70.00 663.83,65.25 664.50,62.00 C665.17,58.75 665.92,56.73 666.50,55.50 C667.08,54.27 667.75,54.75 668.00,54.60" fill="none" stroke="#78c04c" stroke-width="1.46" stroke-dasharray="5.84,5.84" clip-path="url(#cpc)"/>
<path d="M490.00,226.20 C497.20,225.58 519.15,224.12 533.20,222.50 C547.25,220.88 563.17,218.63 574.30,216.50 C585.43,214.37 593.35,211.78 600.00,209.70 C606.65,207.62 609.47,206.37 614.20,204.00 C618.93,201.63 624.77,198.17 628.40,195.50 C632.03,192.83 633.48,191.25 636.00,188.00 C638.52,184.75 641.50,180.00 643.50,176.00 C645.50,172.00 646.67,168.00 648.00,164.00 C649.33,160.00 650.50,156.00 651.50,152.00 C652.50,148.00 653.25,144.50 654.00,140.00 C654.75,135.50 655.33,130.33 656.00,125.00 C656.67,119.67 657.30,113.83 658.00,108.00 C658.70,102.17 659.48,95.67 660.20,90.00 C660.92,84.33 661.58,78.83 662.30,74.00 C663.02,69.17 663.80,64.17 664.50,61.00 C665.20,57.83 666.17,56.00 666.50,55.00" fill="none" stroke="#6a3d9a" stroke-width="1.35" stroke-dasharray="1.35,4.05" clip-path="url(#cpc)"/>
<path d="M490.00,233.60 C504.05,233.45 555.97,232.88 574.30,232.70 C592.63,232.52 591.93,232.92 600.00,232.50 C608.07,232.08 616.53,231.40 622.70,230.20 C628.87,229.00 633.43,228.23 637.00,225.30 C640.57,222.37 642.22,217.57 644.10,212.60 C645.98,207.63 646.88,201.20 648.30,195.50 C649.72,189.80 651.65,183.48 652.60,178.40 C653.55,173.32 653.43,170.57 654.00,165.00 C654.57,159.43 655.33,151.50 656.00,145.00 C656.67,138.50 657.38,132.17 658.00,126.00 C658.62,119.83 659.15,113.67 659.70,108.00 C660.25,102.33 660.75,97.33 661.30,92.00 C661.85,86.67 662.42,80.83 663.00,76.00 C663.58,71.17 664.22,66.25 664.80,63.00 C665.38,59.75 665.97,57.90 666.50,56.50 C667.03,55.10 667.75,54.92 668.00,54.60" fill="none" stroke="#efb03c" stroke-width="1.46" stroke-dasharray="1.46,4.38,5.84,4.38" clip-path="url(#cpc)"/>
<path d="M490.00,232.10 C499.48,232.02 530.57,231.97 546.90,231.60 C563.23,231.23 579.15,230.23 588.00,229.90 C596.85,229.57 595.15,230.12 600.00,229.60 C604.85,229.08 611.88,227.98 617.10,226.80 C622.32,225.62 627.52,224.63 631.30,222.50 C635.08,220.37 637.43,218.03 639.80,214.00 C642.17,209.97 643.60,204.23 645.50,198.30 C647.40,192.37 649.58,183.95 651.20,178.40 C652.82,172.85 654.22,170.60 655.20,165.00 C656.18,159.40 656.47,151.65 657.10,144.80 C657.73,137.95 658.43,130.03 659.00,123.90 C659.57,117.77 660.03,113.05 660.50,108.00 C660.97,102.95 661.37,98.53 661.80,93.60 C662.23,88.67 662.63,83.45 663.10,78.40 C663.57,73.35 664.10,67.08 664.60,63.30 C665.10,59.52 665.62,57.15 666.10,55.70 C666.58,54.25 667.27,54.78 667.50,54.60" fill="none" stroke="#e8608c" stroke-width="1.46" stroke-dasharray="10.22,4.38" clip-path="url(#cpc)"/>
<rect x="516.30" y="67.20" width="85.30" height="117.10" fill="#fff"/>
<line x1="587.5" x2="601.60" y1="72.6" y2="72.6" stroke="#d4d4d4" stroke-width="1.4"/>
<path d="M515.00,147.20 C516.53,146.50 521.30,144.43 524.20,143.00 C527.10,141.57 529.67,140.22 532.40,138.60 C535.13,136.98 537.87,135.40 540.60,133.30 C543.33,131.20 546.40,128.47 548.80,126.00 C551.20,123.53 552.82,121.42 555.00,118.50 C557.18,115.58 559.77,111.67 561.90,108.50 C564.03,105.33 565.82,102.75 567.80,99.50 C569.78,96.25 571.80,92.33 573.80,89.00 C575.80,85.67 577.98,82.00 579.80,79.50 C581.62,77.00 583.30,75.17 584.70,74.00 C586.10,72.83 587.62,72.75 588.20,72.50" fill="none" stroke="#bebebe" stroke-width="1.60" clip-path="url(#cic)"/>
<path d="M515.00,162.50 C516.53,161.73 521.30,159.52 524.20,157.90 C527.10,156.28 529.67,154.50 532.40,152.80 C535.13,151.10 537.87,149.75 540.60,147.70 C543.33,145.65 546.25,143.45 548.80,140.50 C551.35,137.55 553.38,133.98 555.90,130.00 C558.42,126.02 561.58,120.82 563.90,116.60 C566.22,112.38 567.82,109.00 569.80,104.70 C571.78,100.40 573.82,94.93 575.80,90.80 C577.78,86.67 579.88,82.62 581.70,79.90 C583.52,77.18 585.37,75.65 586.70,74.50 C588.03,73.35 588.82,73.35 589.70,73.00 C590.58,72.65 591.62,72.50 592.00,72.40" fill="none" stroke="#78c04c" stroke-width="1.46" stroke-dasharray="5.84,5.84" clip-path="url(#cic)"/>
<path d="M515.00,149.00 C516.53,148.53 521.30,147.20 524.20,146.20 C527.10,145.20 529.67,144.12 532.40,143.00 C535.13,141.88 537.87,140.95 540.60,139.50 C543.33,138.05 546.58,136.12 548.80,134.30 C551.02,132.48 551.72,131.22 553.90,128.60 C556.08,125.98 559.58,121.92 561.90,118.60 C564.22,115.28 565.82,112.33 567.80,108.70 C569.78,105.07 571.80,100.77 573.80,96.80 C575.80,92.83 577.98,88.22 579.80,84.90 C581.62,81.58 583.22,78.88 584.70,76.90 C586.18,74.92 587.65,73.75 588.70,73.00 C589.75,72.25 590.62,72.50 591.00,72.40" fill="none" stroke="#6a3d9a" stroke-width="1.35" stroke-dasharray="1.35,4.05" clip-path="url(#cic)"/>
<path d="M515.00,169.50 C516.53,169.03 521.30,167.78 524.20,166.70 C527.10,165.62 529.67,164.47 532.40,163.00 C535.13,161.53 537.87,160.12 540.60,157.90 C543.33,155.68 546.07,152.77 548.80,149.70 C551.53,146.63 554.48,142.78 557.00,139.50 C559.52,136.22 561.77,134.13 563.90,130.00 C566.03,125.87 567.82,119.57 569.80,114.70 C571.78,109.83 573.82,105.43 575.80,100.80 C577.78,96.17 579.88,90.88 581.70,86.90 C583.52,82.92 585.20,79.15 586.70,76.90 C588.20,74.65 589.65,74.15 590.70,73.40 C591.75,72.65 592.62,72.57 593.00,72.40" fill="none" stroke="#efb03c" stroke-width="1.46" stroke-dasharray="1.46,4.38,5.84,4.38" clip-path="url(#cic)"/>
<path d="M515.00,166.50 C516.53,166.10 521.30,165.02 524.20,164.10 C527.10,163.18 529.67,162.20 532.40,161.00 C535.13,159.80 537.87,158.78 540.60,156.90 C543.33,155.02 546.07,152.43 548.80,149.70 C551.53,146.97 554.32,143.78 557.00,140.50 C559.68,137.22 562.60,133.98 564.90,130.00 C567.20,126.02 568.82,121.15 570.80,116.60 C572.78,112.05 574.82,107.33 576.80,102.70 C578.78,98.07 580.88,92.77 582.70,88.80 C584.52,84.83 585.87,81.47 587.70,78.90 C589.53,76.33 592.32,74.48 593.70,73.40 C595.08,72.32 595.62,72.57 596.00,72.40" fill="none" stroke="#e8608c" stroke-width="1.46" stroke-dasharray="10.22,4.38" clip-path="url(#cic)"/>
<line x1="516.30" x2="601.60" y1="67.20" y2="67.20" stroke="#a0a0a0" stroke-width="1.00"/>
<line x1="601.60" x2="601.60" y1="66.70" y2="184.80" stroke="#8a8a8a" stroke-width="1.00"/>
<line x1="516.30" x2="516.30" y1="66.70" y2="184.80" stroke="#9a9a9a" stroke-width="1.00"/>
<line x1="515.80" x2="602.10" y1="184.30" y2="184.30" stroke="#6e6e6e" stroke-width="1.00"/>
<line x1="513.80" x2="516.30" y1="179.35" y2="179.35" stroke="#3c3c3c" stroke-width="1"/>
<text x="512.30" y="182.75" font-size="8.60" text-anchor="end" font-weight="bold" fill="#3e3e3e" stroke="#3e3e3e" stroke-width="0.25">0.0</text>
<line x1="513.80" x2="516.30" y1="125.85" y2="125.85" stroke="#3c3c3c" stroke-width="1"/>
<text x="512.30" y="129.25" font-size="8.60" text-anchor="end" font-weight="bold" fill="#3e3e3e" stroke="#3e3e3e" stroke-width="0.25">0.5</text>
<line x1="513.80" x2="516.30" y1="72.35" y2="72.35" stroke="#3c3c3c" stroke-width="1"/>
<text x="512.30" y="75.75" font-size="8.60" text-anchor="end" font-weight="bold" fill="#3e3e3e" stroke="#3e3e3e" stroke-width="0.25">1.0</text>
<line x1="519.80" x2="519.80" y1="184.30" y2="186.50" stroke="#3c3c3c" stroke-width="1"/>
<text x="519.80" y="195.20" font-size="8.80" text-anchor="middle" font-weight="bold" fill="#3e3e3e" stroke="#3e3e3e" stroke-width="0.25">0.0</text>
<line x1="558.80" x2="558.80" y1="184.30" y2="186.50" stroke="#3c3c3c" stroke-width="1"/>
<text x="558.80" y="195.20" font-size="8.80" text-anchor="middle" font-weight="bold" fill="#3e3e3e" stroke="#3e3e3e" stroke-width="0.25">0.5</text>
<line x1="597.80" x2="597.80" y1="184.30" y2="186.50" stroke="#3c3c3c" stroke-width="1"/>
<text x="597.80" y="195.20" font-size="8.80" text-anchor="middle" font-weight="bold" fill="#3e3e3e" stroke="#3e3e3e" stroke-width="0.25">1.0</text>
<rect x="519.80" y="182.10" width="78.00" height="4.4" fill="rgba(79,142,173,0.45)"/>
<line x1="492.00" x2="677.40" y1="46.00" y2="46.00" stroke="#8a8a8a" stroke-width="1.00"/>
<line x1="677.40" x2="677.40" y1="45.50" y2="243.90" stroke="#808080" stroke-width="1.00"/>
<line x1="492.00" x2="492.00" y1="45.50" y2="243.90" stroke="#989898" stroke-width="1.00"/>
<line x1="491.50" x2="677.90" y1="243.40" y2="243.40" stroke="#6a6a6a" stroke-width="1.00"/>
<line x1="489.50" x2="492.00" y1="234.35" y2="234.35" stroke="#3c3c3c" stroke-width="1"/>
<text x="487.80" y="239.85" font-size="12.50" text-anchor="end" font-weight="bold" fill="#3e3e3e" stroke="#3e3e3e" stroke-width="0.25">0.00</text>
<line x1="489.50" x2="492.00" y1="189.44" y2="189.44" stroke="#3c3c3c" stroke-width="1"/>
<text x="487.80" y="194.94" font-size="12.50" text-anchor="end" font-weight="bold" fill="#3e3e3e" stroke="#3e3e3e" stroke-width="0.25">0.25</text>
<line x1="489.50" x2="492.00" y1="144.52" y2="144.52" stroke="#3c3c3c" stroke-width="1"/>
<text x="487.80" y="150.02" font-size="12.50" text-anchor="end" font-weight="bold" fill="#3e3e3e" stroke="#3e3e3e" stroke-width="0.25">0.50</text>
<line x1="489.50" x2="492.00" y1="99.61" y2="99.61" stroke="#3c3c3c" stroke-width="1"/>
<text x="487.80" y="105.11" font-size="12.50" text-anchor="end" font-weight="bold" fill="#3e3e3e" stroke="#3e3e3e" stroke-width="0.25">0.75</text>
<line x1="489.50" x2="492.00" y1="54.70" y2="54.70" stroke="#3c3c3c" stroke-width="1"/>
<text x="487.80" y="60.20" font-size="12.50" text-anchor="end" font-weight="bold" fill="#3e3e3e" stroke="#3e3e3e" stroke-width="0.25">1.00</text>
<line x1="500.30" x2="500.30" y1="243.40" y2="245.70" stroke="#3c3c3c" stroke-width="1"/>
<text x="500.30" y="256.70" font-size="12.50" text-anchor="middle" font-weight="bold" fill="#3e3e3e" stroke="#3e3e3e" stroke-width="0.25">-5</text>
<line x1="528.35" x2="528.35" y1="243.40" y2="245.70" stroke="#3c3c3c" stroke-width="1"/>
<text x="528.35" y="256.70" font-size="12.50" text-anchor="middle" font-weight="bold" fill="#3e3e3e" stroke="#3e3e3e" stroke-width="0.25">-4</text>
<line x1="556.40" x2="556.40" y1="243.40" y2="245.70" stroke="#3c3c3c" stroke-width="1"/>
<text x="556.40" y="256.70" font-size="12.50" text-anchor="middle" font-weight="bold" fill="#3e3e3e" stroke="#3e3e3e" stroke-width="0.25">-3</text>
<line x1="584.45" x2="584.45" y1="243.40" y2="245.70" stroke="#3c3c3c" stroke-width="1"/>
<text x="584.45" y="256.70" font-size="12.50" text-anchor="middle" font-weight="bold" fill="#3e3e3e" stroke="#3e3e3e" stroke-width="0.25">-2</text>
<line x1="612.50" x2="612.50" y1="243.40" y2="245.70" stroke="#3c3c3c" stroke-width="1"/>
<text x="612.50" y="256.70" font-size="12.50" text-anchor="middle" font-weight="bold" fill="#3e3e3e" stroke="#3e3e3e" stroke-width="0.25">-1</text>
<line x1="640.55" x2="640.55" y1="243.40" y2="245.70" stroke="#3c3c3c" stroke-width="1"/>
<text x="640.55" y="256.70" font-size="12.50" text-anchor="middle" font-weight="bold" fill="#3e3e3e" stroke="#3e3e3e" stroke-width="0.25">0</text>
<line x1="668.60" x2="668.60" y1="243.40" y2="245.70" stroke="#3c3c3c" stroke-width="1"/>
<text x="668.60" y="256.70" font-size="12.50" text-anchor="middle" font-weight="bold" fill="#3e3e3e" stroke="#3e3e3e" stroke-width="0.25">1</text>
<rect x="640.55" y="240.80" width="28.05" height="5.4" fill="rgba(79,142,173,0.45)"/>
<line x1="671.00" x2="671.00" y1="258.6" y2="279.8" stroke="#000" stroke-width="1.3" stroke-dasharray="1.1,1.1"/>
<line x1="493.70" x2="669.60" y1="269.3" y2="269.3" stroke="#000" stroke-width="1.15"/>
<path d="M497.40,265.80 L493.10,269.3 L497.40,272.80" fill="none" stroke="#000" stroke-width="1.15"/>
<path d="M665.90,265.80 L670.20,269.3 L665.90,272.80" fill="none" stroke="#000" stroke-width="1.15"/>
<text x="669.95" y="288.30" font-size="9.20" text-anchor="middle" font-weight="normal" fill="#111">Perfect</text>
<text x="493.25" y="288.30" font-size="9.20" text-anchor="middle" font-weight="normal" fill="#111">Poor</text>
<line x1="53.95" x2="85.45" y1="308.50" y2="308.50" stroke="#bebebe" stroke-width="2.0" stroke-linecap="round"/>
<text x="92.40" y="314.20" font-size="18.30" text-anchor="start" font-weight="normal" fill="#000">E-HYPE</text>
<line x1="177.00" x2="208.50" y1="308.50" y2="308.50" stroke="#78c04c" stroke-width="2.4" stroke-linecap="round" stroke-dasharray="8.40,8.40"/>
<path d="M213.70,309.20H222.70M218.20,304.70V313.70" stroke="#000" stroke-width="1.5" fill="none"/>
<text x="224.90" y="314.20" font-size="18.00" text-anchor="start" font-weight="normal" fill="#000">GLM</text>
<line x1="300.65" x2="332.15" y1="308.50" y2="308.50" stroke="#6a3d9a" stroke-width="2.4" stroke-linecap="round" stroke-dasharray="2.10,6.30"/>
<path d="M336.30,309.20H345.30M340.80,304.70V313.70" stroke="#000" stroke-width="1.5" fill="none"/>
<text x="348.40" y="314.20" font-size="18.00" text-anchor="start" font-weight="normal" fill="#000">QM</text>
<line x1="424.05" x2="455.55" y1="308.50" y2="308.50" stroke="#efb03c" stroke-width="2.4" stroke-linecap="round" stroke-dasharray="2.10,6.30,8.40,6.30"/>
<path d="M459.80,309.20H468.80M464.30,304.70V313.70" stroke="#000" stroke-width="1.5" fill="none"/>
<text x="471.90" y="314.20" font-size="18.00" text-anchor="start" font-weight="normal" fill="#000">RF</text>
<line x1="547.85" x2="579.35" y1="308.50" y2="308.50" stroke="#e8608c" stroke-width="2.4" stroke-linecap="round" stroke-dasharray="14.70,6.30"/>
<path d="M584.70,309.20H593.70M589.20,304.70V313.70" stroke="#000" stroke-width="1.5" fill="none"/>
<text x="595.90" y="314.20" font-size="18.00" text-anchor="start" font-weight="normal" fill="#000">LSTM</text>
</svg>
</body></html>
